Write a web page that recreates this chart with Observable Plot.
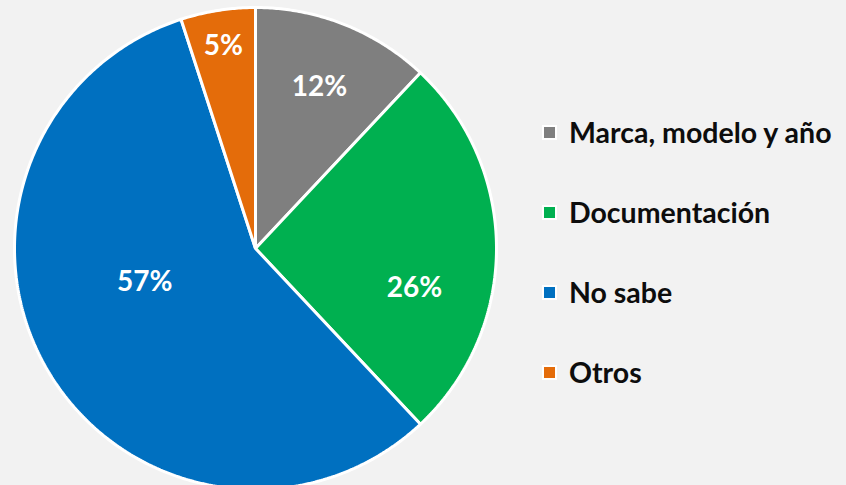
<!DOCTYPE html>
<html>
<head>
<meta charset="utf-8">
<script src="https://cdn.jsdelivr.net/npm/d3@7"></script>
<script src="https://cdn.jsdelivr.net/npm/@observablehq/plot@0.6"></script>
<style>
  html, body { margin: 0; padding: 0; background: #f2f2f2; overflow: hidden; }
  #wrap { position: relative; width: 846px; height: 485px; }
  #chart svg { display: block; overflow: hidden; }
  .legend { position: absolute; left: 542px; top: 0; font-family: Lato, "Open Sans", sans-serif; font-weight: 700; font-size: 28.5px; color: #0d0d0d; }
  .item { position: absolute; left: 0; white-space: nowrap; display: flex; align-items: center; }
  .sw { width: 11px; height: 11px; border: 2px solid #ffffff; margin-right: 12px; flex: none; }
</style>
</head>
<body>
<div id="wrap"><div id="chart"></div><div class="legend" id="legend"></div></div>
<script>
const categories = ["Marca, modelo y año", "Documentación", "No sabe", "Otros"];
const values = [12, 26, 57, 5];
const labels = ["12%", "26%", "57%", "5%"];
const colors = ["#7f7f7f", "#00b050", "#0070c0", "#e46c0a"];

// label placement tweaks (angle offset in degrees, radial fraction), mimicking Excel best-fit
const labelPlacement = [[0, 0.72], [14, 0.68], [14, 0.48], [0, 0.85]];

const pie = d3.pie().sort(null).value(d => d.value)(
  categories.map((c, i) => ({category: c, value: values[i]}))
);

const pts = [];
pie.forEach(s => {
  const c = s.data.category;
  pts.push({category: c, x: 0, y: 0});
  const n = Math.max(2, Math.ceil((s.endAngle - s.startAngle) / (Math.PI / 360)));
  for (let k = 0; k <= n; k++) {
    const a = s.startAngle + (s.endAngle - s.startAngle) * k / n;
    pts.push({category: c, x: Math.sin(a), y: Math.cos(a)});
  }
});

const labelData = pie.map((s, i) => {
  const [off, r] = labelPlacement[i];
  const a = (s.startAngle + s.endAngle) / 2 + off * Math.PI / 180;
  return {label: labels[i], x: r * Math.sin(a), y: r * Math.cos(a)};
});

const chart = Plot.plot({
  width: 846,
  height: 485,
  margin: 0,
  style: {background: "transparent", overflow: "hidden"},
  x: {domain: [-1, 1], range: [14, 496], axis: null},
  y: {domain: [-1, 1], range: [489, 7], axis: null},
  color: {domain: categories, range: colors},
  marks: [
    Plot.line(pts, {x: "x", y: "y", z: "category", fill: "category", stroke: "#ffffff", strokeWidth: 3, curve: "linear-closed", strokeLinejoin: "miter"}),
    Plot.text(labelData, {x: "x", y: "y", text: "label", fill: "#ffffff", fontSize: 28, fontWeight: "bold", fontFamily: "Lato, 'Open Sans', sans-serif"})
  ]
});
document.getElementById("chart").appendChild(chart);

const legend = document.getElementById("legend");
const tops = [132, 212, 292, 372];
categories.forEach((c, i) => {
  const it = document.createElement("div");
  it.className = "item";
  it.style.top = (tops[i] - 18) + "px";
  it.style.height = "36px";
  const sw = document.createElement("span");
  sw.className = "sw";
  sw.style.background = colors[i];
  const t = document.createElement("span");
  t.textContent = c;
  it.appendChild(sw); it.appendChild(t);
  legend.appendChild(it);
});
</script>
</body>
</html>
